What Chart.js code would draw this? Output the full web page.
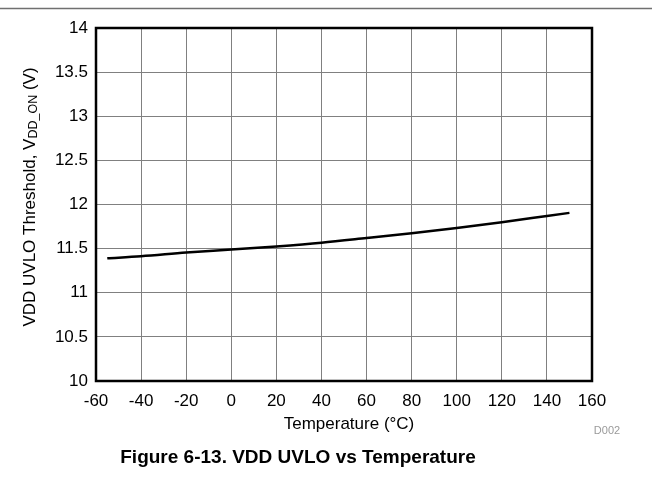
<!DOCTYPE html>
<html>
<head>
<meta charset="utf-8">
<script src="https://cdn.jsdelivr.net/npm/chart.js@4/dist/chart.umd.min.js"></script>
<style>
  html, body { margin: 0; padding: 0; background: #fff; }
  #wrap { position: relative; width: 652px; height: 485px; }
</style>
</head>
<body>
<div id="wrap"><canvas id="uvloChart"></canvas></div>
<script>
// values
var temps = [-55, -40, -20, 0, 20, 40, 60, 80, 100, 120, 140, 150];
var vddOn = [11.39, 11.413, 11.455, 11.489, 11.525, 11.567, 11.62, 11.675, 11.735, 11.80, 11.87, 11.905];
var xTicks = [-60, -40, -20, 0, 20, 40, 60, 80, 100, 120, 140, 160];
var yTicks = [10, 10.5, 11, 11.5, 12, 12.5, 13, 13.5, 14];

var FONT = '"Liberation Sans", Arial, sans-serif';

var points = temps.map(function(t, i) { return { x: t, y: vddOn[i] }; });

// frame, axis titles, caption
var decor = {
  id: 'decor',
  afterDraw: function(chart) {
    var ctx = chart.ctx, a = chart.chartArea;
    ctx.save();

    // rule across the top
    ctx.strokeStyle = '#707070';
    ctx.lineWidth = 1.5;
    ctx.beginPath();
    ctx.moveTo(0, 8.5);
    ctx.lineTo(652, 8.5);
    ctx.stroke();

    // plot frame
    ctx.strokeStyle = '#000';
    ctx.lineWidth = 2.5;
    ctx.strokeRect(a.left, a.top, a.right - a.left, a.bottom - a.top);

    // x title
    ctx.fillStyle = '#000';
    ctx.font = '17px ' + FONT;
    ctx.textAlign = 'center';
    ctx.textBaseline = 'middle';
    ctx.fillText('Temperature (\u00B0C)', 349, 424);

    // y title with subscript
    var parts = [
      { t: 'VDD UVLO Threshold, V', f: '17px ' + FONT, dy: 0 },
      { t: 'DD_ON', f: '12.5px ' + FONT, dy: 4 },
      { t: ' (V)', f: '17px ' + FONT, dy: 0 }
    ];
    var total = 0;
    parts.forEach(function(p) { ctx.font = p.f; p.w = ctx.measureText(p.t).width; total += p.w; });
    ctx.translate(30, 197);
    ctx.rotate(-Math.PI / 2);
    ctx.textAlign = 'left';
    var x = -total / 2;
    parts.forEach(function(p) {
      ctx.font = p.f;
      ctx.fillText(p.t, x, p.dy);
      x += p.w;
    });
    ctx.setTransform(1, 0, 0, 1, 0, 0);
    ctx.scale(chart.currentDevicePixelRatio, chart.currentDevicePixelRatio);

    // figure id
    ctx.fillStyle = '#9a9a9a';
    ctx.font = '11px ' + FONT;
    ctx.textAlign = 'center';
    ctx.fillText('D002', 607, 431);

    // caption
    ctx.fillStyle = '#000';
    ctx.font = 'bold 19px ' + FONT;
    ctx.fillText('Figure 6-13. VDD UVLO vs Temperature', 298, 458);

    ctx.restore();
  }
};

new Chart(document.getElementById('uvloChart'), {
  type: 'line',
  data: {
    datasets: [{
      label: 'VDD_ON',
      data: points,
      borderColor: '#000',
      borderWidth: 2.5,
      pointRadius: 0,
      tension: 0.4,
      cubicInterpolationMode: 'monotone',
      fill: false
    }]
  },
  options: {
    responsive: true,
    maintainAspectRatio: false,
    animation: false,
    layout: { padding: { top: 28, right: 60, bottom: 74, left: 0 } },
    plugins: { legend: { display: false }, tooltip: { enabled: false } },
    scales: {
      x: {
        type: 'linear',
        min: -60,
        max: 160,
        afterBuildTicks: function(s) { s.ticks = xTicks.map(function(v) { return { value: v }; }); },
        afterFit: function(s) { s.height = 30; },
        grid: { color: '#808080', lineWidth: 1, drawTicks: false },
        border: { display: false },
        ticks: {
          padding: 10,
          color: '#000',
          font: { family: FONT, size: 17 },
          maxRotation: 0,
          callback: function(v) { return String(v); }
        }
      },
      y: {
        min: 10,
        max: 14,
        afterBuildTicks: function(s) { s.ticks = yTicks.map(function(v) { return { value: v }; }); },
        afterFit: function(s) { s.width = 96; },
        grid: { color: '#808080', lineWidth: 1, drawTicks: false },
        border: { display: false },
        ticks: {
          padding: 8,
          color: '#000',
          font: { family: FONT, size: 17 },
          callback: function(v) { return String(v); }
        }
      }
    }
  },
  plugins: [decor]
});
</script>
</body>
</html>
